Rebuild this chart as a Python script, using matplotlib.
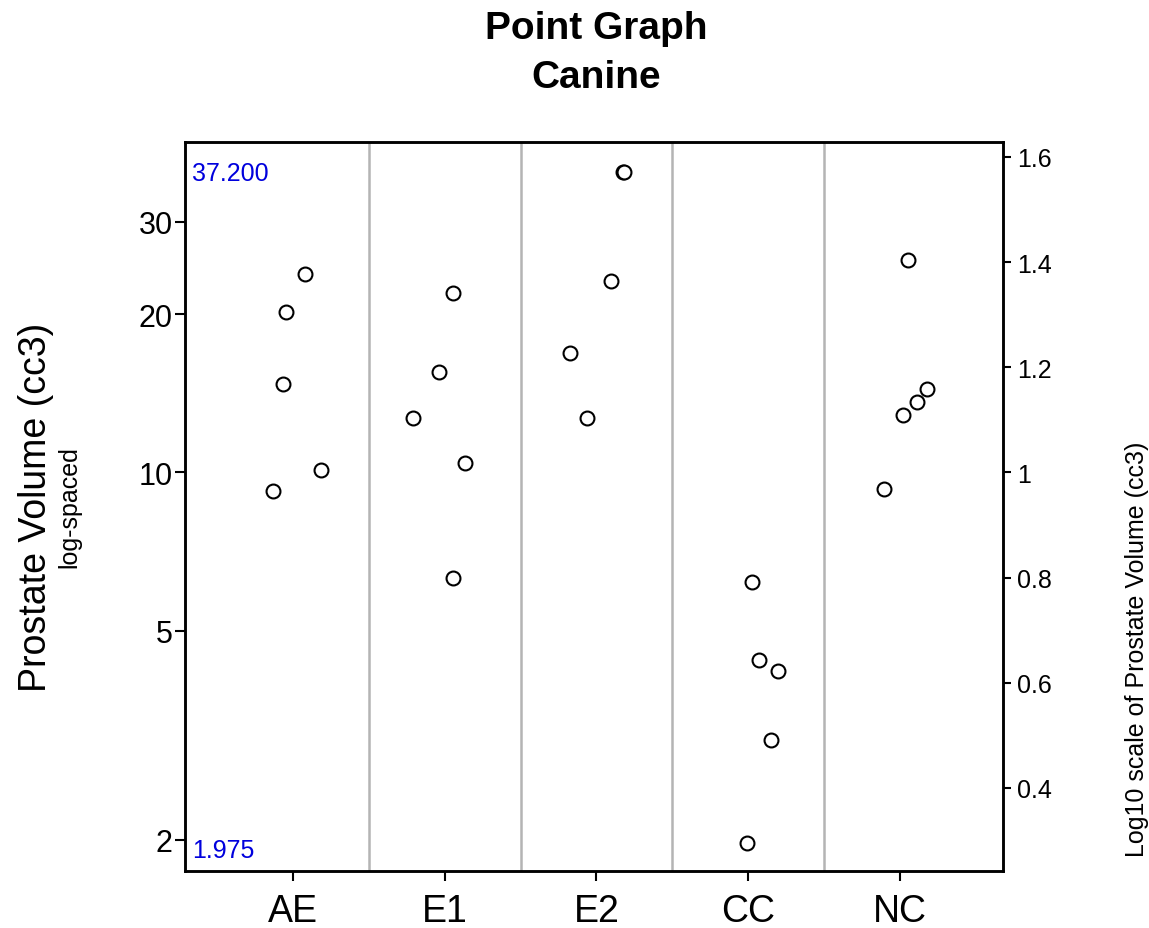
import numpy as np
import matplotlib
matplotlib.use("Agg")
import matplotlib.pyplot as plt
from matplotlib.ticker import FixedLocator, NullLocator

plt.rcParams['font.family'] = ['Liberation Sans', 'DejaVu Sans']

# ---- data ----
categories = ["AE", "E1", "E2", "CC", "NC"]
ae_values = [23.8, 20.2, 14.7, 10.1, 9.2]
e1_values = [21.9, 15.5, 12.7, 10.4, 6.3]
e2_values = [37.2, 37.2, 23.1, 16.9, 12.7]
cc_values = [6.2, 4.4, 4.2, 3.1, 1.975]
nc_values = [25.4, 14.4, 13.6, 12.85, 9.3]
series = [ae_values, e1_values, e2_values, cc_values, nc_values]

# horizontal jitter (layout only)
ae_jit = [0.081, -0.048, -0.066, 0.186, -0.13]
e1_jit = [0.057, -0.038, -0.211, 0.136, 0.057]
e2_jit = [0.174, 0.180, 0.096, -0.172, -0.06]
cc_jit = [0.028, 0.072, 0.197, 0.153, -0.007]
nc_jit = [0.052, 0.177, 0.115, 0.019, -0.104]
jitters = [ae_jit, e1_jit, e2_jit, cc_jit, nc_jit]

left_ticks = [2, 5, 10, 20, 30]
right_ticks = [0.4, 0.6, 0.8, 1.0, 1.2, 1.4, 1.6]
right_tick_labels = ["0.4", "0.6", "0.8", "1", "1.2", "1.4", "1.6"]

W, H = 1149, 929
fig = plt.figure(figsize=(W / 100, H / 100), dpi=100)
ax = fig.add_axes([185 / W, 1 - 872 / H, (1003 - 185) / W, (872 - 143) / H])

for i, (vals, jit) in enumerate(zip(series, jitters)):
    xs = [i + j for j in jit]
    ax.plot(xs, vals, linestyle='none', marker='o', markersize=10,
            markerfacecolor='white', markeredgecolor='black',
            markeredgewidth=1.5, zorder=3)

for k in range(len(categories) - 1):
    ax.axvline(k + 0.5, color='#b4b4b4', linewidth=1.8, zorder=1)

ax.set_yscale('log')
ylo, yhi = 1.746, 42.5
ax.set_ylim(ylo, yhi)
ax.set_xlim(-0.712, 4.68)

ax.yaxis.set_major_locator(FixedLocator(left_ticks))
ax.yaxis.set_minor_locator(NullLocator())
ax.set_yticklabels([str(t) for t in left_ticks])
ax.set_xticks(range(len(categories)))
ax.set_xticklabels(categories)

for s in ax.spines.values():
    s.set_linewidth(1.8)
    s.set_color('black')

ax.tick_params(axis='y', which='major', direction='out', length=7, width=1.5,
               labelsize=22, pad=2)
ax.tick_params(axis='x', direction='out', length=7, width=1.5,
               labelsize=27, pad=9)

ax.set_ylabel("Prostate Volume (cc3)", fontsize=27)
ax.yaxis.set_label_coords(-0.160, 0.5)
ax.text(-0.141, 0.5, "log-spaced", transform=ax.transAxes, rotation=90,
        fontsize=18, ha='center', va='center')

ax.text(0.009, 0.957, "%.3f" % max(max(s) for s in series),
        transform=ax.transAxes, color='#0000dd', fontsize=18,
        ha='left', va='center')
ax.text(0.009, 0.029, "%.3f" % min(min(s) for s in series),
        transform=ax.transAxes, color='#0000dd', fontsize=18,
        ha='left', va='center')

ax2 = ax.twinx()
ax2.set_ylim(np.log10(ylo), np.log10(yhi))
ax2.set_yticks(right_ticks)
ax2.set_yticklabels(right_tick_labels)
ax2.tick_params(axis='y', direction='out', length=6, width=1.5,
                labelsize=18, pad=4)
for s in ax2.spines.values():
    s.set_linewidth(1.8)
ax2.set_ylabel("Log10 scale of Prostate Volume (cc3)", fontsize=18)
ax2.yaxis.set_label_coords(1.149, 0.305)

fig.text(596 / W, 1 - 29 / H, "Point Graph", fontsize=28, fontweight='bold',
         ha='center', va='center')
fig.text(596 / W, 1 - 78 / H, "Canine", fontsize=28, fontweight='bold',
         ha='center', va='center')

fig.savefig("out.png", dpi=100, facecolor='white')
